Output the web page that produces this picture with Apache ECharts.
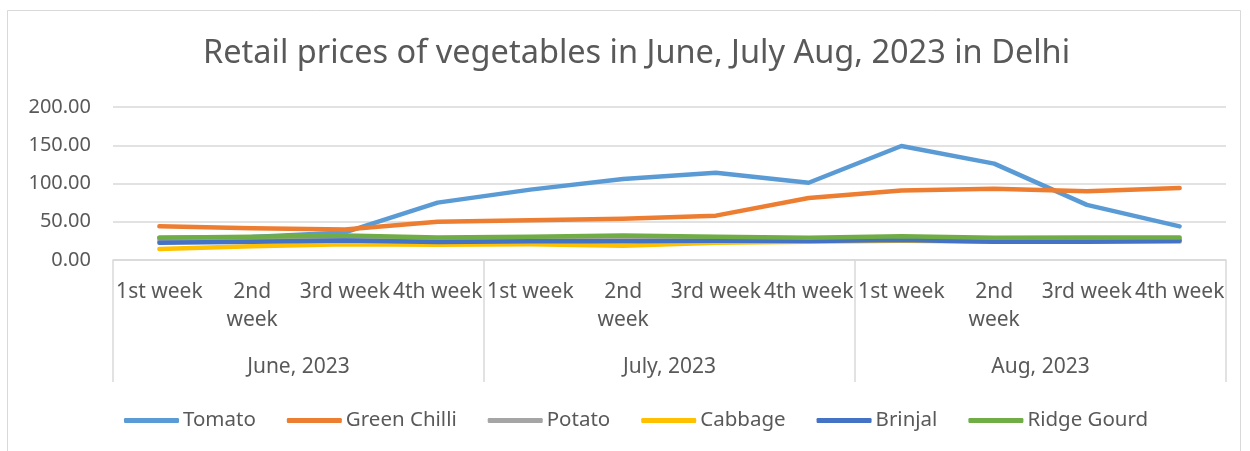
<!DOCTYPE html>
<html>
<head>
<meta charset="utf-8">
<script src="https://cdn.jsdelivr.net/npm/echarts@6/dist/echarts.min.js"></script>
<style>
	html, body { margin: 0; padding: 0; background: #fff; }
	#chart { width: 1250px; height: 451px; }
</style>
</head>
<body>
<div id="chart"></div>
<script>
	// weeks per month, months as the outer category level
	const weeks = ['1st week', '2nd\nweek', '3rd week', '4th week',
		'1st week', '2nd\nweek', '3rd week', '4th week',
		'1st week', '2nd\nweek', '3rd week', '4th week'];
	const months = ['June, 2023', 'July, 2023', 'Aug, 2023'];
	const yTicks = [0, 50, 100, 150, 200];

	const tomato = [29, 30, 36, 75, 92, 106, 114, 101, 149, 126, 72, 44];
	const greenChilli = [44, 41.5, 40, 50, 52, 54, 58, 81, 91, 93, 90, 94];
	const potato = [26, 27, 28, 27, 27, 28, 28, 27, 28, 27, 27, 27];
	const cabbage = [14.5, 18, 20.5, 20, 20.5, 18.5, 22.5, 24, 25, 24, 24, 24];
	const brinjal = [22.5, 24, 25.5, 23.5, 24.5, 24.5, 25, 25, 26, 24, 24, 25];
	const ridgeGourd = [29, 30.5, 32, 29.5, 30.5, 32, 30.5, 29, 31, 29, 29.5, 29.5];

	const font = "'Noto Sans', sans-serif";
	const textColor = '#595959';
	const gridColor = '#d9d9d9';

	const names = ['Tomato', 'Green Chilli', 'Potato', 'Cabbage', 'Brinjal', 'Ridge Gourd'];
	const values = [tomato, greenChilli, potato, cabbage, brinjal, ridgeGourd];
	const colors = ['#5B9BD5', '#ED7D31', '#A5A5A5', '#FFC000', '#4472C4', '#70AD47'];

	let myChart = echarts.init(document.getElementById('chart'));
	const option = {
		backgroundColor: '#fff',
		color: colors,
		animation: false,
		textStyle: { fontFamily: font },
		graphic: [{
			type: 'rect',
			shape: { x: 7.5, y: 10.5, width: 1233, height: 500 },
			style: { fill: 'none', stroke: gridColor, lineWidth: 1 },
			silent: true
		}],
		title: {
			text: 'Retail prices of vegetables in June, July Aug, 2023 in Delhi',
			left: 198,
			top: 32,
			textStyle: { fontFamily: font, fontSize: 32.5, fontWeight: 'normal', color: textColor }
		},
		legend: {
			data: names,
			top: 405,
			left: 119,
			itemGap: 31,
			itemWidth: 55,
			itemHeight: 5,
			icon: 'roundRect',
			textStyle: { fontFamily: font, fontSize: 20.5, color: textColor, padding: [0, 0, 0, -1] }
		},
		grid: {
			left: 113,
			right: 24,
			top: 107,
			bottom: 191,
			containLabel: false
		},
		xAxis: [{
			type: 'category',
			data: weeks,
			boundaryGap: true,
			axisLine: { lineStyle: { color: gridColor, width: 1.5 } },
			axisTick: { show: false },
			axisLabel: {
				interval: 0,
				margin: 18,
				fontFamily: font,
				fontSize: 21,
				lineHeight: 28,
				color: textColor
			}
		}, {
			type: 'category',
			data: months,
			position: 'bottom',
			boundaryGap: true,
			axisLine: { show: false },
			axisTick: { show: true, length: 122, lineStyle: { color: gridColor, width: 1.5 } },
			axisLabel: {
				interval: 0,
				margin: 97,
				fontFamily: font,
				fontSize: 21,
				color: textColor
			}
		}],
		yAxis: {
			type: 'value',
			min: yTicks[0],
			max: yTicks[yTicks.length - 1],
			interval: 50,
			axisLine: { show: false },
			axisTick: { show: false },
			splitLine: { lineStyle: { color: gridColor, width: 1.5 } },
			axisLabel: {
				margin: 22,
				fontFamily: font,
				fontSize: 20,
				color: textColor,
				formatter: v => v.toFixed(2)
			}
		},
		series: names.map((name, i) => ({
			name: name,
			type: 'line',
			data: values[i],
			showSymbol: false,
			symbol: 'none',
			lineStyle: { width: 4.5, cap: 'round', join: 'round' }
		}))
	};
	myChart.setOption(option);
</script>
</body>
</html>
